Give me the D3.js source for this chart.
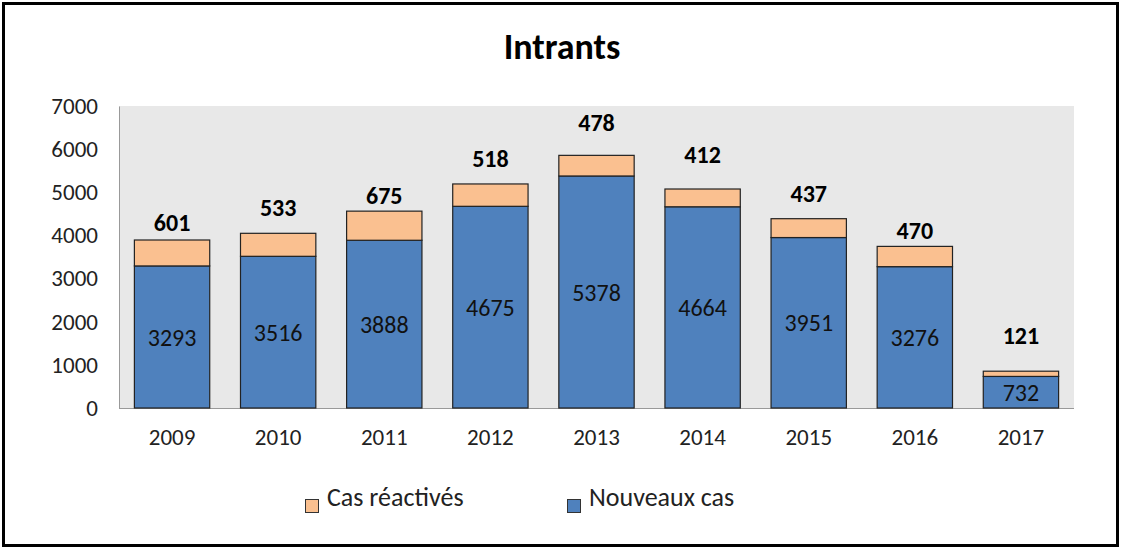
<!DOCTYPE html>
<html><head><meta charset="utf-8">
<script src="https://cdn.jsdelivr.net/npm/d3@7/dist/d3.min.js"></script>
<style>body{margin:0;background:#fff}svg{display:block}text{font-family:Carlito,Calibri,Lato,sans-serif}</style>
</head><body><svg id="c" width="1121" height="550"></svg>
<script>
const years = ["2009","2010","2011","2012","2013","2014","2015","2016","2017"];
const nouveauxCas = [3293,3516,3888,4675,5378,4664,3951,3276,732];
const casReactives = [601,533,675,518,478,412,437,470,121];
const yTicks = [0,1000,2000,3000,4000,5000,6000,7000];
const seriesNames = ["Cas réactivés","Nouveaux cas"];
// layout only: gap (px) between top of bar and centre of its total label, as placed in the original
const labelGap = [18,26,15.5,26,33,35,25,16.5,36];
const colors = {blue:"#4F81BD", orange:"#FAC090"};
const FONT = "Carlito,Calibri,Lato,sans-serif";

const svg = d3.select("#c");
svg.append("rect").attr("x",3.5).attr("y",3.5).attr("width",1114).attr("height",542)
  .attr("fill","#fff").attr("stroke","#000").attr("stroke-width",3);

const L=119, R=1074, T=106, B=408;
const x = d3.scaleBand().domain(years).range([L,R]).paddingInner(0.29).paddingOuter(0.145);
const y = d3.scaleLinear().domain([0,7000]).range([B,T]);

svg.append("rect").attr("x",L).attr("y",T).attr("width",R-L).attr("height",B-T).attr("fill","#E8E8E8");

svg.append("text").attr("x",562).attr("y",59).attr("text-anchor","middle")
  .attr("font-size",36).attr("font-weight","bold").attr("fill","#000").text("Intrants");

const ya = svg.append("g").attr("transform",`translate(${L},0)`)
  .call(d3.axisLeft(y).tickValues(yTicks).tickSize(0).tickPadding(21).tickFormat(d3.format("d")));
ya.select(".domain").attr("stroke","#999");
ya.selectAll("text").attr("font-size",23).attr("fill","#222").style("font-family",FONT);

const xa = svg.append("g").attr("transform",`translate(0,${B})`)
  .call(d3.axisBottom(x).tickSize(0).tickPadding(21));
xa.select(".domain").attr("stroke","#999").attr("d",`M${L},0.5H${R}`);
xa.selectAll("text").attr("font-size",23).attr("fill","#222").style("font-family",FONT);

const g = svg.append("g");
years.forEach((yr,i)=>{
  const n = nouveauxCas[i], r = casReactives[i];
  g.append("rect").attr("x",x(yr)).attr("y",y(n)).attr("width",x.bandwidth()).attr("height",y(0)-y(n))
    .attr("fill",colors.blue).attr("stroke","#222").attr("stroke-width",1.2);
  g.append("rect").attr("x",x(yr)).attr("y",y(n+r)).attr("width",x.bandwidth()).attr("height",y(n)-y(n+r))
    .attr("fill",colors.orange).attr("stroke","#222").attr("stroke-width",1.2);
  g.append("text").attr("x",x(yr)+x.bandwidth()/2).attr("y",(y(n)+y(0))/2).attr("dy","0.36em")
    .attr("text-anchor","middle").attr("font-size",24).attr("fill","#111").text(n);
  g.append("text").attr("x",x(yr)+x.bandwidth()/2).attr("y",y(n+r)-labelGap[i]).attr("dy","0.36em")
    .attr("text-anchor","middle").attr("font-size",24).attr("font-weight","bold").attr("fill","#000").text(r);
});

const leg = [{name:seriesNames[0],c:colors.orange,x:305},{name:seriesNames[1],c:colors.blue,x:567}];
leg.forEach(l=>{
  svg.append("rect").attr("x",l.x+0.5).attr("y",499.5).attr("width",13).attr("height",13)
    .attr("fill",l.c).attr("stroke","#333").attr("stroke-width",1);
  svg.append("text").attr("x",l.x+22).attr("y",506)
    .attr("font-size",26).attr("fill","#222").text(l.name);
});
</script></body></html>
